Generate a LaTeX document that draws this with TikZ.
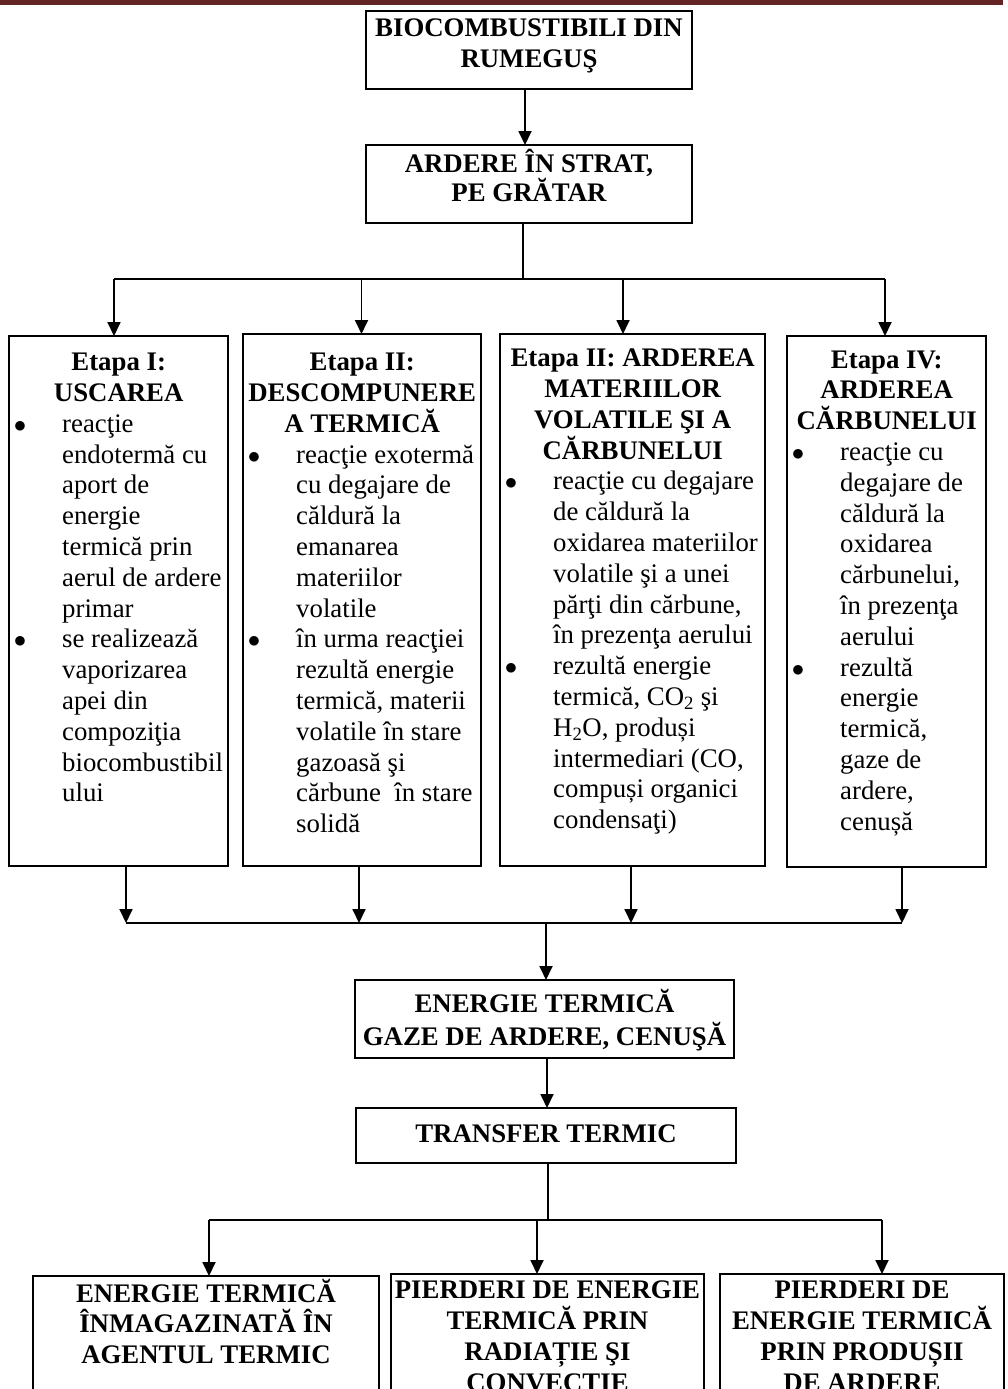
\documentclass[tikz,border=0pt]{standalone}
\usepackage{fontspec}
\setmainfont{Liberation Serif}
\usetikzlibrary{arrows.meta}
\definecolor{barred}{HTML}{632523}
\newlength\bxw
\newcommand\fsz[1]{\fontsize{26.8}{#1}\selectfont\lineskiplimit=-100pt\relax}
\newcommand\cbx[2]{\parbox[t]{460pt}{\fsz{#1}\bfseries\centering #2}}
\newcommand\ebx[2]{\parbox[t]{300pt}{\fsz{30.8}\setlength\bxw{#1}#2}}
\newcommand\hdl[1]{\makebox[\bxw][c]{\bfseries #1}\par}
\newcommand\bli[1]{\makebox[53pt][l]{\makebox[22pt][c]{$\bullet$}}#1\par}
\newcommand\cli[1]{\hspace*{53pt}#1\par}
\tikzset{
  frame/.style={draw, line width=1.8pt, rectangle, inner sep=0pt, outer sep=0pt, anchor=north west},
  txt/.style={anchor=base, inner sep=0pt},
  txtl/.style={anchor=base west, inner sep=0pt},
  ln/.style={line width=1.8pt},
  arr/.style={line width=1.8pt, -{Triangle[length=14pt,width=13pt]}}
}
\begin{document}
\begin{tikzpicture}[x=1pt,y=-1pt]
\useasboundingbox (0,0) rectangle (1007,1389);
\clip (0,0) rectangle (1007,1389);
\fill[barred] (0,0) rectangle (1003,5);
% boxes
\node[frame, minimum width=326pt, minimum height=78pt] (top1) at (366,11) {};
\node[frame, minimum width=326pt, minimum height=78pt] (top2) at (366,145) {};
\node[frame, minimum width=219pt, minimum height=530pt] (etA) at (9,336) {};
\node[frame, minimum width=238pt, minimum height=532pt] (etB) at (243,334) {};
\node[frame, minimum width=265pt, minimum height=532pt] (etC) at (500,334) {};
\node[frame, minimum width=199pt, minimum height=531pt] (etD) at (787,336) {};
\node[frame, minimum width=379pt, minimum height=78pt] (enE) at (355,980) {};
\node[frame, minimum width=380pt, minimum height=55pt] (trF) at (356,1108) {};
\node[frame, minimum width=346pt, minimum height=150pt] (bxG) at (33,1276) {};
\node[frame, minimum width=313pt, minimum height=150pt] (bxH) at (391,1274) {};
\node[frame, minimum width=284pt, minimum height=150pt] (bxI) at (720,1274) {};
% texts
\node[txt] (t1) at (529,37) {\cbx{31}{BIOCOMBUSTIBILI DIN\\RUMEGUŞ}};
\node[txt] (t2) at (529,172) {\cbx{29}{ARDERE ÎN STRAT,\\PE GRĂTAR}};
\node[txtl] (ta) at (9,370.7) {\ebx{219pt}{\hdl{Etapa I:}\hdl{USCAREA}%
  \bli{reacţie}\cli{endotermă cu}\cli{aport de}\cli{energie}\cli{termică prin}\cli{aerul de ardere}\cli{primar}%
  \bli{se realizează}\cli{vaporizarea}\cli{apei din}\cli{compoziţia}\cli{biocombustibil}\cli{ului}}};
\node[txtl] (tb) at (243,370.7) {\ebx{238pt}{\hdl{Etapa II:}\hdl{DESCOMPUNERE}\hdl{A TERMICĂ}%
  \bli{reacţie exotermă}\cli{cu degajare de}\cli{căldură la}\cli{emanarea}\cli{materiilor}\cli{volatile}%
  \bli{în urma reacţiei}\cli{rezultă energie}\cli{termică, materii}\cli{volatile în stare}\cli{gazoasă şi}\cli{cărbune \ în stare}\cli{solidă}}};
\node[txtl] (tc) at (500,366.7) {\ebx{265pt}{\hdl{Etapa II: ARDEREA}\hdl{MATERIILOR}\hdl{VOLATILE ŞI A}\hdl{CĂRBUNELUI}%
  \bli{reacţie cu degajare}\cli{de căldură la}\cli{oxidarea materiilor}\cli{volatile şi a unei}\cli{părţi din cărbune,}\cli{în prezenţa aerului}%
  \bli{rezultă energie}\cli{termică, CO\textsubscript{2} şi}\cli{H\textsubscript{2}O, produși}\cli{intermediari (CO,}\cli{compuși organici}\cli{condensaţi)}}};
\node[txtl] (td) at (787,368) {\ebx{199pt}{\hdl{Etapa IV:}\hdl{ARDEREA}\hdl{CĂRBUNELUI}%
  \bli{reacţie cu}\cli{degajare de}\cli{căldură la}\cli{oxidarea}\cli{cărbunelui,}\cli{în prezenţa}\cli{aerului}%
  \bli{rezultă}\cli{energie}\cli{termică,}\cli{gaze de}\cli{ardere,}\cli{cenușă}}};
\node[txt] (te) at (544.5,1012) {\cbx{33}{ENERGIE TERMICĂ\\GAZE DE ARDERE, CENUŞĂ}};
\node[txt] (tf) at (546,1142) {\cbx{31}{TRANSFER TERMIC}};
\node[txt] (tg) at (206,1302) {\cbx{30.8}{ENERGIE TERMICĂ\\ÎNMAGAZINATĂ ÎN\\AGENTUL TERMIC}};
\node[txt] (th) at (547.5,1298) {\cbx{31.2}{PIERDERI DE ENERGIE\\TERMICĂ PRIN\\RADIAȚIE ŞI\\CONVECȚIE}};
\node[txt] (ti) at (862,1298) {\cbx{31.2}{PIERDERI DE\\ENERGIE TERMICĂ\\PRIN PRODUȘII\\DE ARDERE}};
% connectors
\draw[arr] ([xshift=-4pt]top1.south) -- ([xshift=-4pt]top1.south |- top2.north);
\coordinate (bus1) at (523,279);
\coordinate (b1a) at (114,279);
\coordinate (b1b) at (361.5,279);
\coordinate (b1c) at (623,279);
\coordinate (b1d) at (885,279);
\draw[ln] ([xshift=-6pt]top2.south) -- (bus1);
\draw[ln] (b1a) -- (b1d);
\draw[arr] (b1a) -- (b1a |- etA.north);
\draw[arr] (b1b) -- (b1b |- etB.north);
\draw[arr] (b1c) -- (b1c |- etC.north);
\draw[arr] (b1d) -- (b1d |- etD.north);
\coordinate (b2a) at (126,923);
\coordinate (b2b) at (359,923);
\coordinate (b2c) at (631,923);
\coordinate (b2d) at (902,923);
\coordinate (bus2) at (546,923);
\draw[arr] (etA.south -| b2a) -- (b2a);
\draw[arr] (etB.south -| b2b) -- (b2b);
\draw[arr] (etC.south -| b2c) -- (b2c);
\draw[arr] (etD.south -| b2d) -- (b2d);
\draw[ln] (b2a) -- (b2d);
\draw[arr] (bus2) -- (bus2 |- enE.north);
\draw[arr] ([xshift=2.5pt]enE.south) -- ([xshift=2.5pt]enE.south |- trF.north);
\coordinate (bus3) at (548,1220);
\coordinate (b3a) at (209,1220);
\coordinate (b3b) at (537,1220);
\coordinate (b3c) at (882,1220);
\draw[ln] ([xshift=2pt]trF.south) -- (bus3);
\draw[ln] (b3a) -- (b3c);
\draw[arr] (b3a) -- (b3a |- bxG.north);
\draw[arr] (b3b) -- (b3b |- bxH.north);
\draw[arr] (b3c) -- (b3c |- bxI.north);
\end{tikzpicture}
\end{document}
